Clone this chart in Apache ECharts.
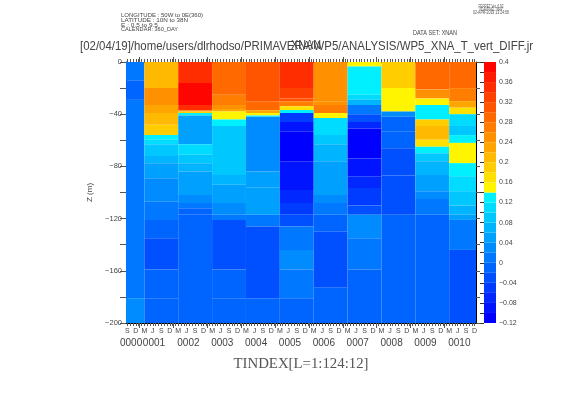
<!DOCTYPE html>
<html><head><meta charset="utf-8">
<script src="https://cdn.jsdelivr.net/npm/echarts@6/dist/echarts.min.js"></script>
<style>html,body{margin:0;padding:0;background:#fff}#c{width:561px;height:397px}</style>
</head><body><div id="c"></div>
<script>
// time index of each column (L) and the cell edges along L
const tIndex = [1, 13, 25, 37, 49, 61, 73, 85, 97, 109, 121];
const tEdges = [0.5, 7, 19, 31, 43, 55, 67, 79, 91, 103, 115, 124.5];

// vertical profiles: [depth of layer bottom (m), value]
const prof01 = [[14,0.01],[29,-0.005],[181,0.01],[200,0.03]];
const prof13 = [[20,0.21],[33,0.25],[39,0.23],[48,0.21],[56,0.19],[59.5,0.13],[63,0.11],[72,0.09],[77.5,0.07],[89,0.05],[107,0.03],[121,0.01],[135,-0.01],[159,-0.03],[181,-0.01],[200,-0.01]];
const prof25 = [[16,0.35],[33,0.39],[37,0.35],[38,0.27],[39,0.19],[41,0.13],[63,0.05],[71,0.11],[77.5,0.09],[84,0.07],[102,0.05],[108,0.03],[112,0.01],[117,-0.01],[200,-0.01]];
const prof37 = [[25,0.29],[33,0.27],[36,0.25],[38,0.23],[44,0.15],[49,0.13],[86.5,0.09],[94,0.07],[108,0.05],[117,0.03],[121,0.01],[159,-0.03],[181,-0.01],[200,-0.01]];
const prof49 = [[30,0.31],[37,0.29],[39,0.23],[41,0.15],[42,0.13],[84,0.03],[96,0.05],[108,0.045],[117,0.05],[126,0.01],[181,-0.03],[200,-0.01]];
const prof61 = [[20,0.35],[28,0.33],[30,0.31],[34,0.27],[36.7,0.17],[39,0.13],[46,-0.05],[53.5,-0.09],[76,-0.11],[86.5,-0.09],[98,-0.09],[108,-0.07],[117,-0.05],[126,-0.03],[144,0.01],[159,0.03],[181,0.01],[200,-0.01]];
const prof73 = [[30,0.25],[33,0.25],[39,0.27],[43,0.15],[56,0.11],[63,0.09],[76,0.07],[102,0.05],[108,0.03],[117,0.01],[130,-0.01],[173,-0.03],[200,-0.01]];
const prof85 = [[3.5,0.15],[25,0.13],[29,0.11],[33,0.07],[40,0.01],[46,-0.03],[51,-0.07],[74,-0.11],[87.5,-0.09],[96.5,-0.07],[110,-0.05],[117,-0.03],[135,0.03],[159,0.01],[200,-0.01]];
const prof97 = [[20,0.19],[38,0.15],[42,0.03],[53,-0.005],[66,-0.015],[87,-0.03],[117,-0.035],[200,-0.01]];
const prof109 = [[21,0.29],[28,0.25],[33,0.15],[44,0.13],[49,0.19],[59.5,0.21],[65,0.17],[70,0.13],[76,0.09],[86.5,0.07],[99,0.05],[105,0.03],[117,0.01],[200,-0.01]];
const prof121 = [[20,0.29],[30,0.27],[35,0.23],[40,0.17],[49,0.11],[56,0.09],[62,0.13],[77.5,0.15],[87.5,0.13],[99,0.11],[110,0.09],[117,0.07],[121,0.05],[144,0.01],[200,-0.03]];
const profiles = [prof01, prof13, prof25, prof37, prof49, prof61, prof73, prof85, prof97, prof109, prof121];

// axis ticks / labels
const monthLabelPos = [1,4,7,10,13,16,19,22,25,28,31,34,37,40,43,46,49,52,55,58,61,64,67,70,73,76,79,82,85,88,91,94,97,100,103,106,109,112,115,118,121,124];
const monthLetters = ['S','D','M','J','S','D','M','J','S','D','M','J','S','D','M','J','S','D','M','J','S','D','M','J','S','D','M','J','S','D','M','J','S','D','M','J','S','D','M','J','S','D'];
const yearTickPos = [5.3,17.3,29.3,41.3,53.3,65.3,77.3,89.3,101.3,113.3];
const yearLabelPos = [2.3,10.4,22.6,34.6,46.6,58.6,70.6,82.6,94.6,106.6,118.6];
const yearLabels = ['0000','0001','0002','0003','0004','0005','0006','0007','0008','0009','0010'];
const depthTickVals = [0,-20,-40,-60,-80,-100,-120,-140,-160,-180,-200];
const depthLabelVals = [0,-40,-80,-120,-160,-200];
const cbEdges = [-0.12,-0.10,-0.08,-0.06,-0.04,-0.02,0,0.02,0.04,0.06,0.08,0.10,0.12,0.14,0.16,0.18,0.20,0.22,0.24,0.26,0.28,0.30,0.32,0.34,0.36,0.38,0.40];
const cbLabelVals = [-0.12,-0.08,-0.04,0,0.04,0.08,0.12,0.16,0.2,0.24,0.28,0.32,0.36,0.4];

// palette (one colour per 0.02 bin, from -0.12 upward)
const binColors = ['#0000ff','#0014ff','#0028ff','#003cff','#0050ff','#0064ff','#0078ff','#008cff','#00a0ff','#00b4ff','#00c8ff','#00dcff','#00f0ff',
  '#fff500','#ffe100','#ffcd00','#ffb900','#ffa500','#ff9100','#ff7d00','#ff6900','#ff5500','#ff4100','#ff2d00','#ff1900','#ff0500'];
function colorOf(v){
  let k = Math.floor((v + 0.12) / 0.02 + 1e-6);
  k = Math.max(0, Math.min(binColors.length - 1, k));
  return binColors[k];
}

const cells = [];
profiles.forEach((p, i) => {
  let top = 0;
  p.forEach(([bot, val]) => {
    cells.push([tEdges[i], tEdges[i+1], -top, -bot, val]);
    top = bot;
  });
});
const cbCells = [];
for (let k = 0; k < cbEdges.length - 1; k++) cbCells.push([0, 1, cbEdges[k], cbEdges[k+1], (cbEdges[k] + cbEdges[k+1]) / 2]);

function rectItem(params, api){
  const p0 = api.coord([api.value(0), api.value(2)]);
  const p1 = api.coord([api.value(1), api.value(3)]);
  return {type:'rect', shape:{x:Math.min(p0[0],p1[0]), y:Math.min(p0[1],p1[1]), width:Math.abs(p1[0]-p0[0]), height:Math.abs(p1[1]-p0[1])},
    style:{fill: colorOf(api.value(4)), stroke: null}};
}

const monthTickVals = [];
for (let L = 1; L <= 124; L++) monthTickVals.push(L);

function measure(text, font){
  const c = document.createElement('canvas').getContext('2d');
  c.font = font; return c.measureText(text).width;
}
function fitText(text, x, y, font, width, align, fill){
  const w = measure(text, font);
  return {type:'text', x:x, y:y, scaleX: width / w, silent:true,
    style:{text:text, x:0, y:0, font:font, fill:fill || '#444', align:align || 'left', textAlign:align || 'left', verticalAlign:'middle', textVerticalAlign:'middle'}};
}
const minus = v => v < 0 ? '\u2212' + String(-v) : String(v);
const TXT = '#444';
const FONT = 'Liberation Sans';

const chart = echarts.init(document.getElementById('c'), null, {renderer:'canvas'});
chart.setOption({
  animation:false,
  backgroundColor:'#fff',
  grid:[
    {left:126, top:62, width:350, height:261},
    {left:484, top:62, width:12, height:261}
  ],
  xAxis:[
    {type:'value', gridIndex:0, position:'bottom', min:0.5, max:124.5,
      axisLine:{show:true, onZero:false, lineStyle:{color:'#000', width:1}},
      axisTick:{show:true, inside:false, length:3, customValues:monthTickVals, lineStyle:{color:'#555'}},
      axisLabel:{show:true, customValues:monthLabelPos, formatter:v => monthLetters[monthLabelPos.indexOf(v)] || '', fontSize:7, fontFamily:FONT, color:TXT, margin:5},
      splitLine:{show:false}},
    {type:'value', gridIndex:0, position:'bottom', min:0.5, max:124.5,
      axisLine:{show:false, onZero:false},
      axisTick:{show:true, inside:false, length:5, customValues:yearTickPos, lineStyle:{color:'#555'}},
      axisLabel:{show:true, customValues:yearLabelPos, formatter:v => yearLabels[yearLabelPos.indexOf(v)] || '', fontSize:10, fontFamily:FONT, color:TXT, margin:15},
      splitLine:{show:false}},
    {type:'value', gridIndex:0, position:'top', min:0.5, max:124.5,
      axisLine:{show:true, onZero:false, lineStyle:{color:'#000', width:1}},
      axisTick:{show:true, inside:false, length:3, customValues:monthTickVals, lineStyle:{color:'#555'}},
      axisLabel:{show:false}, splitLine:{show:false}},
    {type:'value', gridIndex:0, position:'top', min:0.5, max:124.5,
      axisLine:{show:false, onZero:false},
      axisTick:{show:true, inside:false, length:5, customValues:yearTickPos, lineStyle:{color:'#555'}},
      axisLabel:{show:false}, splitLine:{show:false}},
    {type:'value', gridIndex:1, min:0, max:1, show:false}
  ],
  yAxis:[
    {type:'value', gridIndex:0, position:'left', min:-200, max:0,
      axisLine:{show:true, onZero:false, lineStyle:{color:'#000', width:1}},
      axisTick:{show:true, inside:false, length:6, customValues:depthTickVals, lineStyle:{color:'#555'}},
      axisLabel:{show:true, customValues:depthLabelVals, formatter:minus, fontSize:7.5, fontFamily:FONT, color:TXT, margin:4},
      splitLine:{show:false},
      name:'Z (m)', nameLocation:'middle', nameRotate:90, nameGap:32,
      nameTextStyle:{fontSize:8, fontFamily:FONT, color:TXT}},
    {type:'value', gridIndex:0, position:'right', min:-200, max:0,
      axisLine:{show:true, onZero:false, lineStyle:{color:'#000', width:1}},
      axisTick:{show:true, inside:false, length:4, customValues:depthTickVals, lineStyle:{color:'#555'}},
      axisLabel:{show:false}, splitLine:{show:false}},
    {type:'value', gridIndex:1, position:'right', min:-0.12, max:0.4, interval:0.04,
      axisLine:{show:false},
      axisTick:{show:true, inside:true, length:4, customValues:cbEdges, lineStyle:{color:'#333', width:1}},
      axisLabel:{show:true, customValues:cbLabelVals, formatter:v => minus(Math.round(v*100)/100), fontSize:7, fontFamily:FONT, color:TXT, margin:3},
      splitLine:{show:false}}
  ],
  series:[
    {type:'custom', xAxisIndex:0, yAxisIndex:0, data:cells, renderItem:rectItem,
      encode:{x:[0,1], y:[2,3]}, clip:true, silent:true, z:1},
    {type:'custom', xAxisIndex:4, yAxisIndex:2, data:cbCells, renderItem:rectItem,
      encode:{x:[0,1], y:[2,3]}, clip:true, silent:true, z:1}
  ],
  graphic:[
    fitText('[02/04/19]/home/users/dlrhodso/PRIMAVERA/WP5/ANALYSIS/WP5_XNA_T_vert_DIFF.jr', 80, 46, '13px ' + FONT, 453, 'left', '#444'),
    fitText('XNAN', 306, 45, '13px ' + FONT, 30, 'center', '#444'),
    fitText('LONGITUDE : 50W to 0E(360)', 121, 15, '6px ' + FONT, 82, 'left', '#444'),
    fitText('LATITUDE : 10N to 38N', 121, 20, '6px ' + FONT, 67, 'left', '#444'),
    fitText('E : 0.5 to 9.5', 121, 25, '6px ' + FONT, 37, 'left', '#444'),
    fitText('CALENDAR: 360_DAY', 121, 29.5, '6px ' + FONT, 57, 'left', '#444'),
    fitText('FERRET Ver. 6.93', 491, 7, '4.5px ' + FONT, 25, 'center', '#555'),
    fitText('NOAA/PMEL TMAP', 491, 10, '4.5px ' + FONT, 23, 'center', '#555'),
    fitText('02-APR-2019 13:24:58', 491, 13, '4.5px ' + FONT, 36, 'center', '#555'),
    fitText('DATA SET: XNAN', 413, 33.5, '7px ' + FONT, 44, 'left', '#444'),
    fitText('TINDEX[L=1:124:12]', 301, 364, '15px Liberation Serif', 135, 'center', '#555')
  ]
});
</script></body></html>
